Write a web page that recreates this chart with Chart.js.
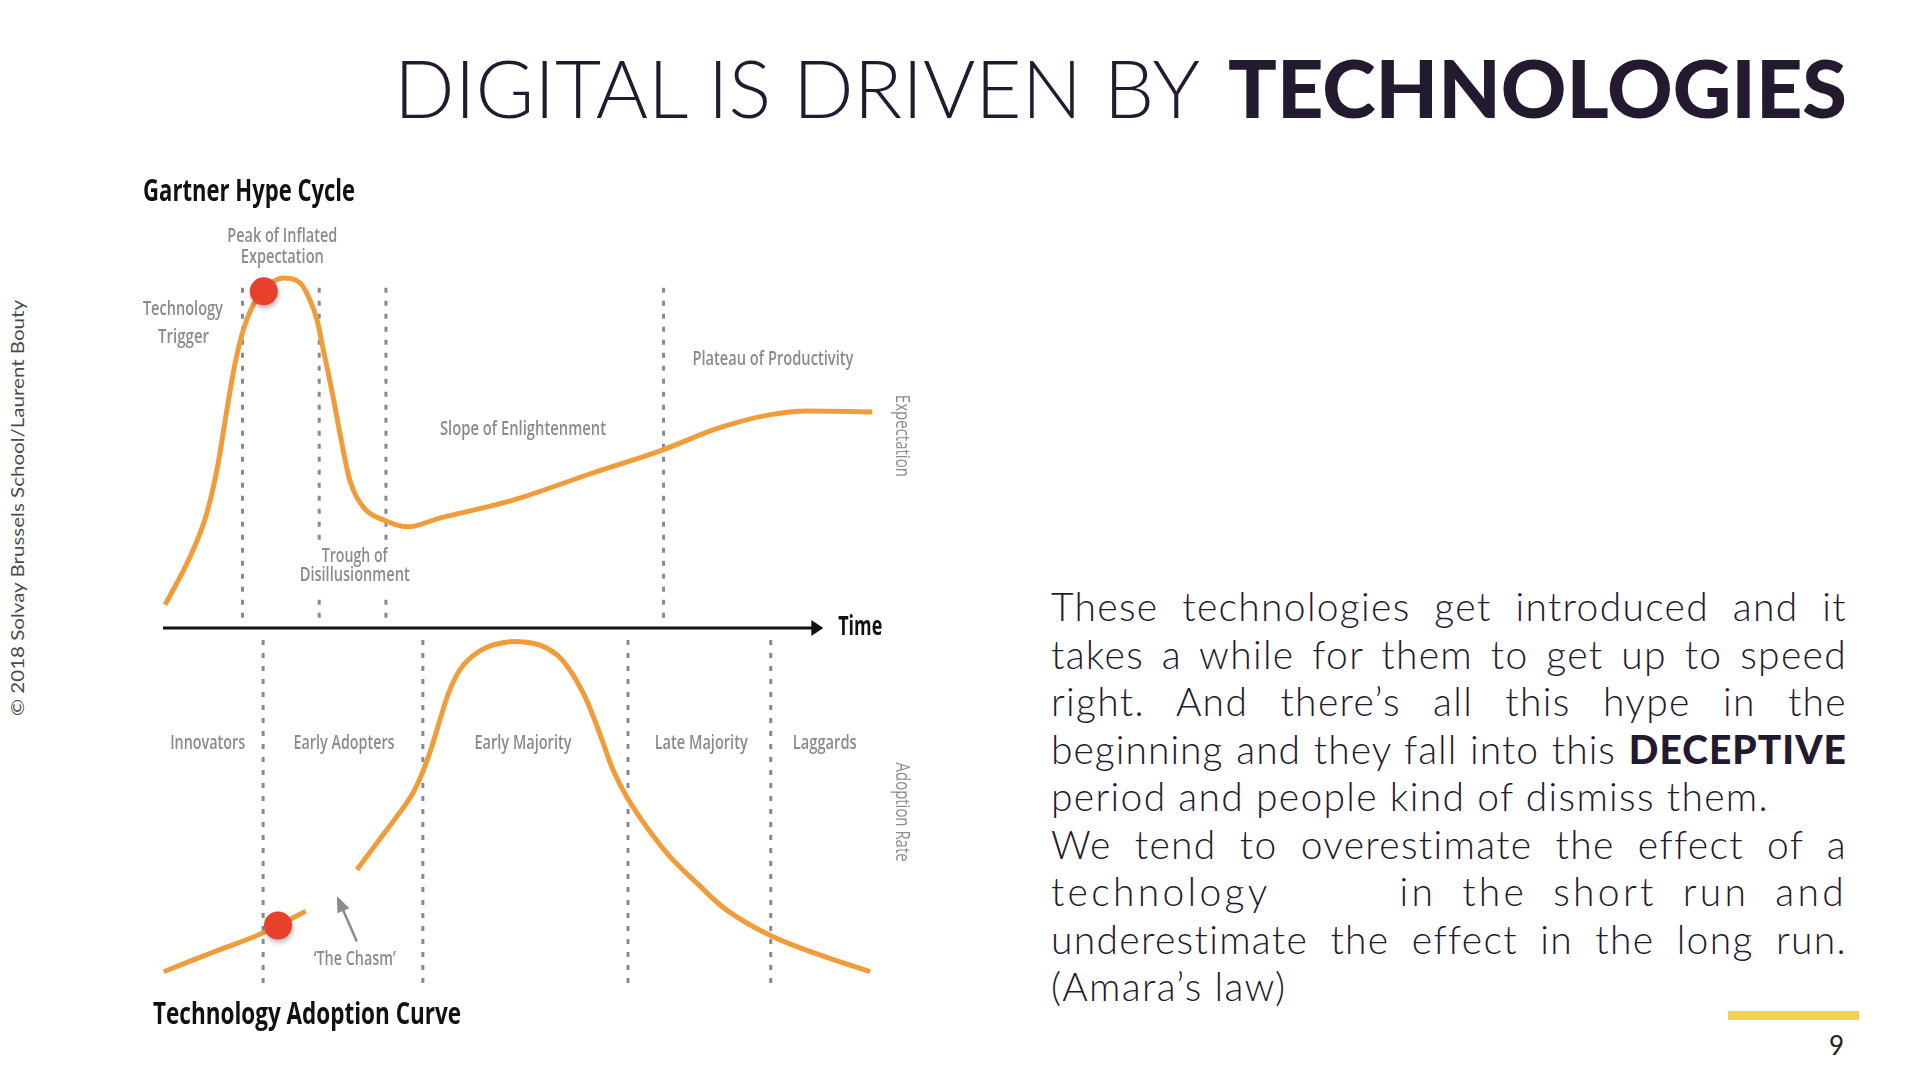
<!DOCTYPE html>
<html>
<head>
<meta charset="utf-8">
<script src="https://cdn.jsdelivr.net/npm/chart.js@4.4.1/dist/chart.umd.min.js"></script>
<style>
html,body{margin:0;padding:0;background:#fff;}
body{width:1920px;height:1080px;position:relative;overflow:hidden;font-family:Lato,'Open Sans',sans-serif;color:#241a2f;}
#wrap{position:absolute;left:0;top:0;width:960px;height:1080px;}
.t{position:absolute;white-space:nowrap;transform-origin:0 0;line-height:1;font-size:80px;}
#para{position:absolute;left:1051px;top:583px;width:796px;font-weight:300;font-size:39px;line-height:47.5px;}
#para div{text-align:justify;text-align-last:justify;}
#para div.l{text-align:left;text-align-last:left;}
#para div.m{text-align:left !important;text-align-last:left !important;white-space:nowrap;}
#para b{font-weight:900;}
#copy{position:absolute;left:17px;top:508px;white-space:nowrap;font-size:17px;color:#4a4a4a;font-weight:400;line-height:1;}
#bar{position:absolute;left:1728px;top:1011px;width:131px;height:9px;background:#f6d04d;}
#pg{position:absolute;left:1829px;top:1032px;font-size:26px;line-height:1;color:#222;}
</style>
</head>
<body>
<div id="t1" class="t" style="left:394px;top:47px;font-weight:300;">DIGITAL IS DRIVEN BY</div>
<div id="t2" class="t" style="left:1228px;top:47px;font-weight:900;">TECHNOLOGIES</div>
<div id="copy">© 2018 Solvay Brussels School/Laurent Bouty</div>
<div id="wrap"><canvas id="c" width="960" height="1080"></canvas></div>
<div id="para">
<div><span>These technologies get introduced and it</span></div>
<div><span>takes a while for them to get up to speed</span></div>
<div><span>right. And there’s all this hype in the</span></div>
<div><span>beginning and they fall into this <b>DECEPTIVE</b></span></div>
<div class="l"><span>period and people kind of dismiss them.</span></div>
<div><span>We tend to overestimate the effect of a</span></div>
<div data-ls="2"><span>technology &nbsp; &nbsp; in the short run and</span></div>
<div><span>underestimate the effect in the long run.</span></div>
<div class="l"><span>(Amara’s law)</span></div>
</div>
<div id="bar"></div>
<div id="pg">9</div>
<script>
// ---------------- DATA ----------------
// Gartner hype cycle (x = time, y = expectation)
const hypeX = [0.3, 3.8, 6.1, 7.7, 9.0, 10.1, 11.3, 12.7, 14.2, 16.9, 19.3, 20.7, 21.7, 22.5, 23.9, 25.1, 26.3, 28.2, 31.0, 34.4, 39.0, 49.4, 60.1, 70.4, 78.2, 85.4, 90.8, 99.9];
const hypeY = [6.6, 20.3, 32.3, 46.3, 62.3, 75.1, 85.1, 92.3, 96.6, 100, 98.6, 93.7, 88.0, 80.3, 66.6, 53.7, 42.3, 34.6, 30.9, 28.9, 31.4, 36.6, 44.0, 50.9, 57.1, 60.9, 62.0, 61.7];
// Technology adoption curve (x = time, y = adoption rate); null = "the chasm"
const adoptX = [0.1, 7.2, 13.9, 20.1, 23.7, 27.3, 30.1, 32.9, 35.0, 36.4, 37.7, 39.0, 40.3, 41.8, 43.5, 45.6, 47.9, 50.3, 53.1, 55.5, 57.3, 59.2, 60.6, 62.0, 63.4, 65.3, 68.1, 71.4, 75.2, 79.4, 85.4, 92.5, 99.6];
const adoptY = [5.8, 11.5, 16.7, 23.1, null, 34.9, 42.5, 50.1, 56.1, 62.0, 69.1, 77.7, 85.8, 92.0, 95.8, 98.5, 99.8, 100.1, 99.1, 96.3, 92.0, 85.3, 78.7, 71.1, 63.4, 55.8, 47.2, 38.7, 31.1, 23.4, 16.3, 10.6, 5.8];
// phase boundaries
const hypePhaseX = [11.2, 22.0, 31.4, 70.5];
const hypePhaseSpan = [2.9, 98.3];
const adoptPhaseX = [14.1, 36.6, 65.5, 85.6];
const adoptPhaseSpan = [2.6, 102.6];
// highlighted points
const hypeDot = {x: 14.2, y: 96.2};
const adoptDot = {x: 16.2, y: 19.0};
// texts
const chartTitles = ['Gartner Hype Cycle', 'Technology Adoption Curve'];
const hypePhaseNames = [['Technology', 'Trigger'], ['Peak of Inflated', 'Expectation'], ['Trough of', 'Disillusionment'], ['Slope of Enlightenment'], ['Plateau of Productivity']];
const adoptGroupNames = ['Innovators', 'Early Adopters', 'Early Majority', 'Late Majority', 'Laggards'];
const axisNames = {time: 'Time', hype: 'Expectation', adopt: 'Adoption Rate', chasm: '‘The Chasm’'};
const timeAxisEnd = 93;

// ---------------- STYLE ----------------
const ORANGE = '#f19c3a', GREY = '#8b8b8b', RED = '#e8412b', DASHC = '#8a8a8a';
const LBL = "600 19px 'Open Sans'";
const BOLD = "700 30px 'Open Sans'";

function pts(xs, ys){ return xs.map((x,i)=>({x:x, y:ys[i]})); }
function vline(x, span){ return [{x:x, y:span[0]}, {x:x, y:span[1]}]; }

const datasets = [
  {data:[hypeDot], yAxisID:'yH', showLine:false, pointRadius:14, pointBackgroundColor:RED, pointBorderWidth:0, order:0, _dot:true},
  {data:[adoptDot], yAxisID:'yA', showLine:false, pointRadius:14, pointBackgroundColor:RED, pointBorderWidth:0, order:0, _dot:true},
  {data:pts(hypeX, hypeY), yAxisID:'yH', borderColor:ORANGE, borderWidth:5, pointRadius:0, cubicInterpolationMode:'monotone', order:1, clip:false},
  {data:pts(adoptX, adoptY), yAxisID:'yA', borderColor:ORANGE, borderWidth:5, pointRadius:0, tension:0.4, spanGaps:false, order:1, clip:false}
];
hypePhaseX.forEach(x=>datasets.push({data:vline(x, hypePhaseSpan), yAxisID:'yH', borderColor:DASHC, borderWidth:3, borderDash:[5,8], pointRadius:0, order:2, clip:false}));
adoptPhaseX.forEach(x=>datasets.push({data:vline(x, adoptPhaseSpan), yAxisID:'yA', borderColor:DASHC, borderWidth:3, borderDash:[5,8], pointRadius:0, order:2, clip:false}));

function fitText(ctx, str, x, y, w, font, color, align, rot){
  ctx.save();
  ctx.font = font; ctx.fillStyle = color; ctx.textBaseline = 'middle';
  ctx.textAlign = align || 'center';
  const m = ctx.measureText(str).width;
  ctx.translate(x, y);
  if (rot) ctx.rotate(rot);
  ctx.scale(w / m, 1);
  ctx.fillText(str, 0, 0);
  ctx.restore();
}

// label layout: [text, x, y(axis units), width, axis]
const labelLayout = [
  [hypePhaseNames[0][0], 2.8, 90.9, 80, 'yH'],
  [hypePhaseNames[0][1], 2.9, 83.1, 51, 'yH'],
  [hypePhaseNames[1][0], 16.8, 111.7, 110, 'yH'],
  [hypePhaseNames[1][1], 16.8, 105.7, 83, 'yH'],
  [hypePhaseNames[2][0], 27.0, 20.3, 66, 'yH'],
  [hypePhaseNames[2][1], 27.0, 15.1, 110, 'yH'],
  [hypePhaseNames[3][0], 50.7, 56.6, 166, 'yH'],
  [hypePhaseNames[4][0], 85.9, 76.6, 161, 'yH'],
  [adoptGroupNames[0], 6.3, 71.1, 75, 'yA'],
  [adoptGroupNames[1], 25.5, 71.1, 101, 'yA'],
  [adoptGroupNames[2], 50.7, 71.1, 97, 'yA'],
  [adoptGroupNames[3], 75.8, 71.1, 93, 'yA'],
  [adoptGroupNames[4], 93.2, 71.1, 64, 'yA'],
  [axisNames.chasm, 27.0, 9.4, 82, 'yA']
];

const annot = {
  id: 'annot',
  beforeDatasetDraw(chart, args){
    const ds = chart.data.datasets[args.index];
    if (ds._dot){
      const c = chart.ctx; c.save();
      c.shadowColor = 'rgba(0,0,0,0.28)'; c.shadowBlur = 5; c.shadowOffsetX = 1; c.shadowOffsetY = 3;
    }
  },
  afterDatasetDraw(chart, args){
    const ds = chart.data.datasets[args.index];
    if (ds._dot) chart.ctx.restore();
  },
  afterDatasetsDraw(chart){
    const c = chart.ctx, sx = chart.scales.x, sh = chart.scales.yH, sa = chart.scales.yA;
    // white box behind trough label (cuts the dashed lines)
    c.save(); c.fillStyle = '#fff';
    c.fillRect(sx.getPixelForValue(27.0) - 58, sh.getPixelForValue(23.4), 116, sh.getPixelForValue(10.3) - sh.getPixelForValue(23.4));
    c.restore();
    // time axis with arrow
    const y0 = sh.getPixelForValue(0), x0 = sx.getPixelForValue(0), x1 = sx.getPixelForValue(timeAxisEnd);
    c.save(); c.strokeStyle = '#111'; c.fillStyle = '#111'; c.lineWidth = 3;
    c.beginPath(); c.moveTo(x0, y0); c.lineTo(x1 - 6, y0); c.stroke();
    c.beginPath(); c.moveTo(x1, y0); c.lineTo(x1 - 12, y0 - 8); c.lineTo(x1 - 12, y0 + 8); c.closePath(); c.fill();
    c.restore();
    fitText(c, axisNames.time, sx.getPixelForValue(95.1), y0, 44, "700 26px 'Open Sans'", '#111', 'left');
    // chasm arrow
    const ax0 = sx.getPixelForValue(27.3), ay0 = sa.getPixelForValue(14.4);
    const ax1 = sx.getPixelForValue(24.5), ay1 = sa.getPixelForValue(27.4);
    const ang = Math.atan2(ay1 - ay0, ax1 - ax0);
    c.save(); c.strokeStyle = GREY; c.fillStyle = GREY; c.lineWidth = 2.5;
    c.beginPath(); c.moveTo(ax0, ay0); c.lineTo(ax1 - 12 * Math.cos(ang), ay1 - 12 * Math.sin(ang)); c.stroke();
    c.translate(ax1, ay1); c.rotate(ang);
    c.beginPath(); c.moveTo(0, 0); c.lineTo(-16, -6.5); c.lineTo(-16, 6.5); c.closePath(); c.fill();
    c.restore();
    // phase labels
    labelLayout.forEach(l => {
      const sc = l[4] === 'yH' ? sh : sa;
      fitText(c, l[0], sx.getPixelForValue(l[1]), sc.getPixelForValue(l[2]), l[3], LBL, GREY, 'center');
    });
    // axis names (rotated)
    fitText(c, axisNames.hype, sx.getPixelForValue(104.1), sh.getPixelForValue(54.9), 82, "400 20px 'Open Sans'", GREY, 'center', Math.PI / 2);
    fitText(c, axisNames.adopt, sx.getPixelForValue(104.1), sa.getPixelForValue(51.4), 99, "400 20px 'Open Sans'", GREY, 'center', Math.PI / 2);
    // chart titles
    fitText(c, chartTitles[0], sx.getPixelForValue(-2.8), sh.getPixelForValue(124.3), 212, BOLD, '#111', 'left');
    fitText(c, chartTitles[1], sx.getPixelForValue(-1.4), sa.getPixelForValue(-6.6), 308, BOLD, '#111', 'left');
  }
};

function build(){
  new Chart(document.getElementById('c'), {
    type: 'line',
    data: {datasets: datasets},
    options: {
      responsive: false, animation: false,
      layout: {padding: {left: 163, right: 87, top: 271, bottom: 88}},
      plugins: {legend: {display: false}, tooltip: {enabled: false}},
      elements: {line: {borderCapStyle: 'butt'}},
      scales: {
        x: {type: 'linear', min: 0, max: 100, display: false},
        yH: {type: 'linear', min: -104, max: 102, display: false},
        yA: {type: 'linear', min: 0, max: 206, display: false}
      }
    },
    plugins: [annot]
  });
}

function layoutText(){
  const fit = (id, w) => { const e = document.getElementById(id); const r = w / e.getBoundingClientRect().width; e.style.transform = 'scaleX(' + r + ')'; };
  fit('t1', 806); fit('t2', 619);
  const cp = document.getElementById('copy');
  const cw = cp.getBoundingClientRect().width;
  cp.style.transformOrigin = '0 0';
  cp.style.transform = 'translate(-8px,208px) rotate(-90deg) scaleX(' + (416 / cw) + ')';
  // paragraph tracking (measure natural widths, unwrapped, left aligned)
  const lines = document.querySelectorAll('#para div');
  lines[4].classList.add('m');
  const ref = lines[4].querySelector('span');
  const w5 = ref.getBoundingClientRect().width;
  const n5 = ref.textContent.length;
  lines[4].classList.remove('m');
  const ls = (718 - w5) / n5;
  lines.forEach(d => {
    let l = ls + (d.dataset.ls ? parseFloat(d.dataset.ls) : 0);
    d.classList.add('m');
    d.style.letterSpacing = l + 'px';
    const s = d.querySelector('span');
    let guard = 0;
    while (s.getBoundingClientRect().width > 790 && guard < 40) { l -= 0.1; d.style.letterSpacing = l + 'px'; guard++; }
    d.classList.remove('m');
  });
}

document.fonts.ready.then(() => { layoutText(); build(); });
</script>
</body>
</html>
